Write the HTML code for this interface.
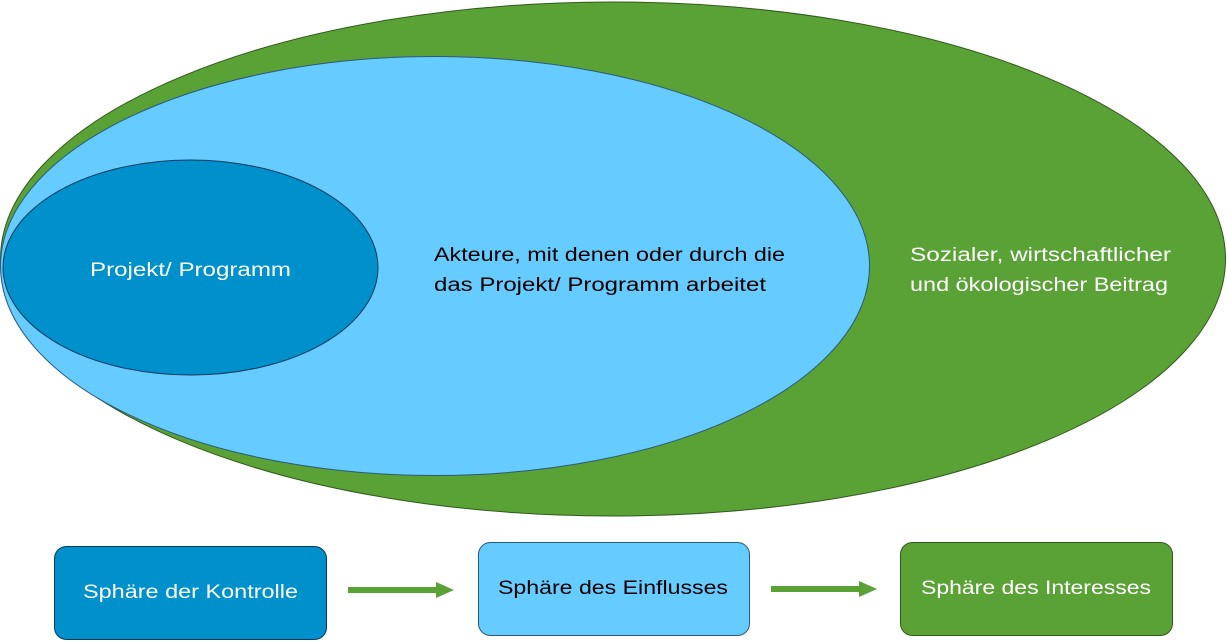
<!DOCTYPE html>
<html><head><meta charset="utf-8"><style>html,body{margin:0;padding:0;background:#fff;width:1227px;height:641px;overflow:hidden}</style></head>
<body>
<svg width="1227" height="641" viewBox="0 0 1227 641" xmlns="http://www.w3.org/2000/svg" font-family="Liberation Sans, sans-serif" font-size="19">
<ellipse cx="613" cy="259" rx="612.5" ry="257" fill="#5aa236" stroke="#2f5a1c" stroke-width="1"/>
<ellipse cx="435" cy="266" rx="434.5" ry="209.5" fill="#66ccff" stroke="#2a5a7a" stroke-width="1"/>
<ellipse cx="190.5" cy="267.5" rx="187.5" ry="107.5" fill="#0090cc" stroke="#0b3a5a" stroke-width="1"/>
<text x="90" y="276" fill="#fff" textLength="201" lengthAdjust="spacingAndGlyphs">Projekt/ Programm</text>
<text x="434" y="261" fill="#000" textLength="351" lengthAdjust="spacingAndGlyphs">Akteure, mit denen oder durch die</text>
<text x="434" y="291" fill="#000" textLength="332" lengthAdjust="spacingAndGlyphs">das Projekt/ Programm arbeitet</text>
<text x="910" y="261" fill="#fff" textLength="261" lengthAdjust="spacingAndGlyphs">Sozialer, wirtschaftlicher</text>
<text x="910" y="291" fill="#fff" textLength="258" lengthAdjust="spacingAndGlyphs">und ökologischer Beitrag</text>
<rect x="54.5" y="546.5" width="272" height="93" rx="12" fill="#0090cc" stroke="#0b3a5a"/>
<text x="83" y="598" fill="#fff" textLength="215" lengthAdjust="spacingAndGlyphs">Sphäre der Kontrolle</text>
<rect x="478.5" y="542.5" width="271" height="93" rx="12" fill="#66ccff" stroke="#2a5a7a"/>
<text x="498" y="594" fill="#000" textLength="230" lengthAdjust="spacingAndGlyphs">Sphäre des Einflusses</text>
<rect x="900.5" y="542.5" width="272" height="93" rx="12" fill="#5aa236" stroke="#2f5a1c"/>
<text x="921" y="594" fill="#fff" textLength="230" lengthAdjust="spacingAndGlyphs">Sphäre des Interesses</text>
<rect x="348" y="587" width="89" height="6" fill="#5aa236"/>
<polygon points="436,582 454,590 436,598" fill="#5aa236"/>
<rect x="771" y="586" width="89" height="6" fill="#5aa236"/>
<polygon points="859,581 877,589 859,597" fill="#5aa236"/>
</svg>
</body></html>
